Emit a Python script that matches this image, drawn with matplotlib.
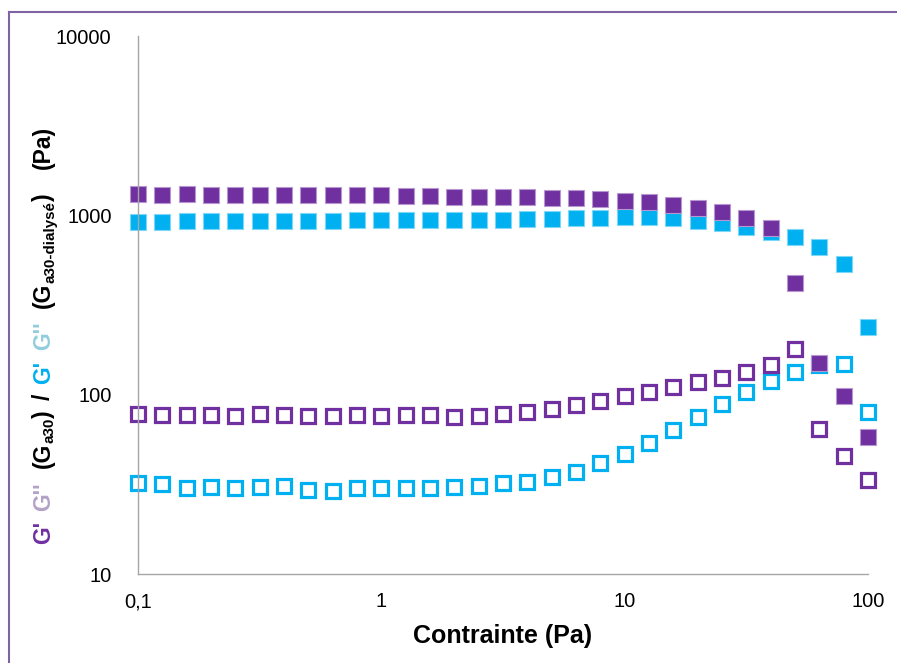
import matplotlib
matplotlib.use("Agg")
import matplotlib.pyplot as plt
from matplotlib.lines import Line2D
from matplotlib.transforms import IdentityTransform

plt.rcParams['font.family'] = ['Liberation Sans', 'DejaVu Sans']

# stress sweep (Pa)
stress = [0.1, 0.1259, 0.1585, 0.1995, 0.2512, 0.3162, 0.3981, 0.5012, 0.631, 0.7943,
          1.0, 1.259, 1.585, 1.995, 2.512, 3.162, 3.981, 5.012, 6.31, 7.943,
          10.0, 12.59, 15.85, 19.95, 25.12, 31.62, 39.81, 50.12, 63.1, 79.43, 100.0]

# G' and G'' of Ga30
g1_ga30 = [1310, 1305, 1310, 1305, 1300, 1300, 1295, 1294, 1294, 1294,
           1294, 1276, 1276, 1259, 1259, 1259, 1262, 1245, 1245, 1230,
           1206, 1182, 1146, 1103, 1047, 962, 853, 421, 151, 98, 58]
g2_ga30 = [77.6, 76.8, 76.8, 76.8, 76.0, 78.0, 76.8, 76.0, 76.0, 76.8,
           76.0, 76.8, 76.8, 74.7, 76.0, 78.0, 80.3, 83.1, 87.9, 92.1,
           98.2, 103.8, 109.8, 118, 124, 133.6, 146, 179, 64.3, 45.6, 33.4]

# G' and G'' of Ga30 dialysed
g1_dial = [914, 914, 929, 929, 929, 929, 929, 929, 929, 942,
           942, 942, 942, 942, 942, 942, 950, 950, 962, 962,
           975, 975, 962, 933, 902, 864, 811, 760, 663, 535, 237]
g2_dial = [32.3, 31.7, 30.0, 30.4, 30.0, 30.6, 31.0, 29.4, 29.0, 30.0,
           30.0, 30.0, 30.0, 30.4, 31.0, 32.0, 32.7, 34.8, 37.2, 41.4,
           46.5, 54.0, 63.5, 75.3, 88.7, 103, 119.6, 134, 146, 148, 80.3]

x_ticks = [0.1, 1, 10, 100]
x_labels = ['0,1', '1', '10', '100']
y_ticks = [10, 100, 1000, 10000]
y_labels = ['10', '100', '1000', '10000']

PURPLE = '#7030A0'
LILAC = '#B3A2C7'
CYAN = '#00B0F0'
LIGHT_CYAN = '#93CDDD'

W, H = 897, 663
fig = plt.figure(figsize=(W / 100, H / 100), dpi=100)
ax = fig.add_axes([138 / W, 1 - 574 / H, (868 - 138) / W, (574 - 36) / H])

# dialysed series first so the Ga30 series sit on top
ax.plot(stress, g1_dial, 's', ms=11, mfc=CYAN, mec='#7FD7F7', mew=0.8, ls='none', clip_on=False)
ax.plot(stress, g2_dial, 's', ms=10, mfc='white', mec=CYAN, mew=2.3, ls='none', clip_on=False)
ax.plot(stress, g1_ga30, 's', ms=11, mfc=PURPLE, mec='#B797CF', mew=0.8, ls='none', clip_on=False)
ax.plot(stress, g2_ga30, 's', ms=10, mfc='white', mec=PURPLE, mew=2.3, ls='none', clip_on=False)

ax.set_xscale('log')
ax.set_yscale('log')
ax.set_xlim(0.1, 100)
ax.set_ylim(10, 10000)
ax.set_xticks(x_ticks)
ax.set_xticklabels(x_labels)
ax.set_yticks(y_ticks)
ax.set_yticklabels(y_labels)
ax.minorticks_off()
ax.tick_params(length=0, labelsize=14.5, colors='black')
ax.tick_params(axis='x', pad=13)
ax.tick_params(axis='y', pad=19)
for side in ['top', 'right']:
    ax.spines[side].set_visible(False)
for side in ['left', 'bottom']:
    ax.spines[side].set_color('#A6A6A6')
    ax.spines[side].set_linewidth(1.0)
ax.patch.set_alpha(0)

fig.text(0.5 * (138 + 868) / W, 1 - 636 / H, 'Contrainte (Pa)', ha='center', va='center',
         fontsize=18, fontweight='bold')

# multicolour rotated y label, built piece by piece
pieces = [
    ("G'", PURPLE, False, 10),
    ("G''", LILAC, False, 14),
    ("(G", 'black', False, 0),
    ("a30", 'black', True, 0),
    (")", 'black', False, 10),
    ("/", 'black', False, 10),
    ("G'", CYAN, False, 10),
    ("G''", LIGHT_CYAN, False, 14),
    ("(G", 'black', False, 0),
    ("a30-dialysé", 'black', True, 0),
    (")", 'black', False, 24),
    ("(Pa)", 'black', False, 0),
]
label_fs = 16.5
base_x = 50
renderer = fig.canvas.get_renderer()
texts = []
y = 0
for s, color, sub, gap in pieces:
    size = label_fs * 0.66 if sub else label_fs
    xx = base_x + (4 if sub else 0)
    t = fig.text(xx, y, s, transform=IdentityTransform(), rotation=90,
                 rotation_mode='anchor', ha='left', va='baseline',
                 color=color, fontsize=size, fontweight='bold')
    bb = t.get_window_extent(renderer)
    texts.append((t, xx, y))
    y += bb.height + gap
total = y
# centre the label on the span seen in the reference
start = (H - 335) - total / 2
for t, xx, yy in texts:
    t.set_position((xx, yy + start))

# purple frame lines (left and top)
fig.add_artist(Line2D([9 / W, 9 / W], [0, 1 - 12 / H], transform=fig.transFigure,
                      color='#8064A2', lw=1.5))
fig.add_artist(Line2D([9 / W, 1], [1 - 12 / H, 1 - 12 / H], transform=fig.transFigure,
                      color='#8064A2', lw=1.5))

fig.savefig('out.png', dpi=100)
print('label length', total)
